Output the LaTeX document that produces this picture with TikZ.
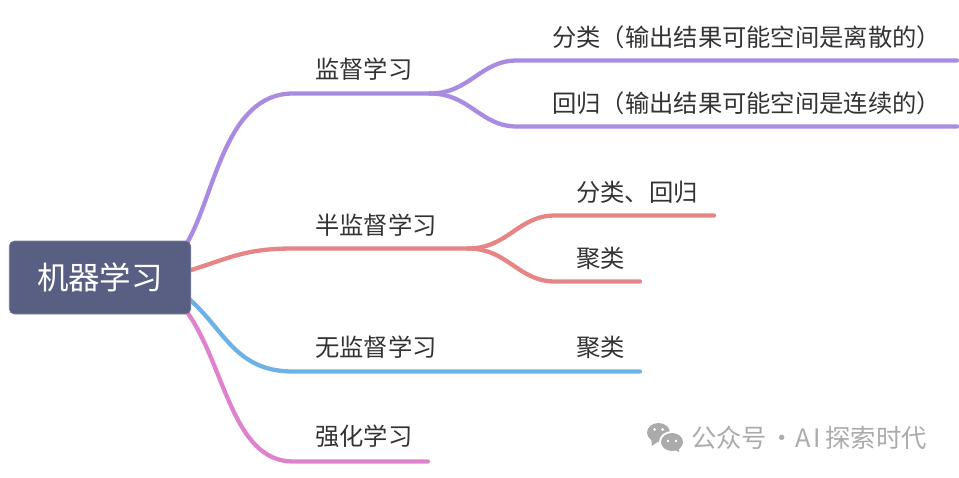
\documentclass[tikz,border=0pt]{standalone}
\usepackage{fontspec}
\setmainfont{Noto Sans CJK SC}
\definecolor{cpurple}{HTML}{A98BE2}
\definecolor{cred}{HTML}{E68585}
\definecolor{cblue}{HTML}{6CB2E6}
\definecolor{cpink}{HTML}{DF82CE}
\definecolor{croot}{HTML}{585F83}
\definecolor{ctext}{HTML}{333333}
\definecolor{cmark}{HTML}{ABABAB}
\tikzset{
  rootbox/.style={fill=croot,draw=croot!80!white,line width=0.6pt,rounded corners=5pt,minimum width=181.5pt,minimum height=73pt,inner sep=0pt,text=white,font=\fontsize{31.5pt}{34pt}\selectfont},
  leaf/.style={anchor=west,inner sep=0pt,text=ctext,font=\fontsize{24.3pt}{28pt}\selectfont},
  branch/.style={line width=4.3pt,line cap=round},
  wm/.style={anchor=west,inner sep=0pt,text=cmark,font=\fontsize{25.3pt}{28pt}\selectfont}
}
\begin{document}
\begin{tikzpicture}[x=1pt,y=-1pt]
\useasboundingbox (0,0) rectangle (959,477);
% hubs and line ends
\coordinate (p0) at (293,93.5);  \coordinate (p1) at (430,93.5);
\coordinate (p1a) at (517,60.5); \coordinate (p1ae) at (957,60.5);
\coordinate (p1b) at (517,126.5);\coordinate (p1be) at (957,126.5);
\coordinate (r0) at (293,248.5); \coordinate (r1) at (468,248.5);
\coordinate (r1a) at (555,215.5);\coordinate (r1ae) at (714,215.5);
\coordinate (r1b) at (555,281.5);\coordinate (r1be) at (640,281.5);
\coordinate (b0) at (293,371.5); \coordinate (b1) at (640,371.5);
\coordinate (k0) at (293,461.5); \coordinate (k1) at (428,461.5);
\coordinate (s1) at (187,243); \coordinate (s2) at (188,271);
\coordinate (s3) at (188,298); \coordinate (s4) at (187,312);
% connectors
\draw[branch,cpurple] (s1) .. controls (215,195) and (225,93.5) .. (p0) -- (p1);
\draw[branch,cpurple] (p1) .. controls (470,93.5) and (480,60.5) .. (p1a) -- (p1ae);
\draw[branch,cpurple] (p1) .. controls (470,93.5) and (480,126.5) .. (p1b) -- (p1be);
\draw[branch,cred] (s2) .. controls (230,258) and (245,248.5) .. (r0) -- (r1);
\draw[branch,cred] (r1) .. controls (508,248.5) and (518,215.5) .. (r1a) -- (r1ae);
\draw[branch,cred] (r1) .. controls (508,248.5) and (518,281.5) .. (r1b) -- (r1be);
\draw[branch,cblue] (s3) .. controls (225,330) and (235,371.5) .. (b0) -- (b1);
\draw[branch,cpink] (s4) .. controls (225,365) and (232,461.5) .. (k0) -- (k1);
% root
\node[rootbox] (root) at (100,277.5) {机器学习};
% labels
\node[leaf] (t1) at (315,69) {监督学习};
\node[leaf] (t2) at (552,37) {分类（输出结果可能空间是离散的）};
\node[leaf] (t3) at (552,103) {回归（输出结果可能空间是连续的）};
\node[leaf] (t4) at (315,225) {半监督学习};
\node[leaf] (t5) at (576,192) {分类、回归};
\node[leaf] (t6) at (576,258) {聚类};
\node[leaf] (t7) at (315,347) {无监督学习};
\node[leaf] (t8) at (576,347) {聚类};
\node[leaf] (t9) at (315,436.5) {强化学习};
% watermark
\fill[cmark] (658.5,432.5) ellipse (11.5 and 9.5);
\fill[cmark] (651,438) -- (652,446) -- (660,440) -- cycle;
\fill[white] (672,442) ellipse (13 and 11);
\fill[cmark] (672,442) ellipse (11 and 9);
\fill[cmark] (673,449) -- (679,452) -- (679,446) -- cycle;
\fill[white] (654.5,429.5) circle (1.5) (662.5,429.5) circle (1.5) (668,441) circle (1.3) (676,441) circle (1.3);
\node[wm] (wmtext) at (691,438) {公众号\hspace{-3pt} ·\hspace{-5pt} A\hspace{2pt}I\hspace{5pt}探索时代};
\end{tikzpicture}
\end{document}
